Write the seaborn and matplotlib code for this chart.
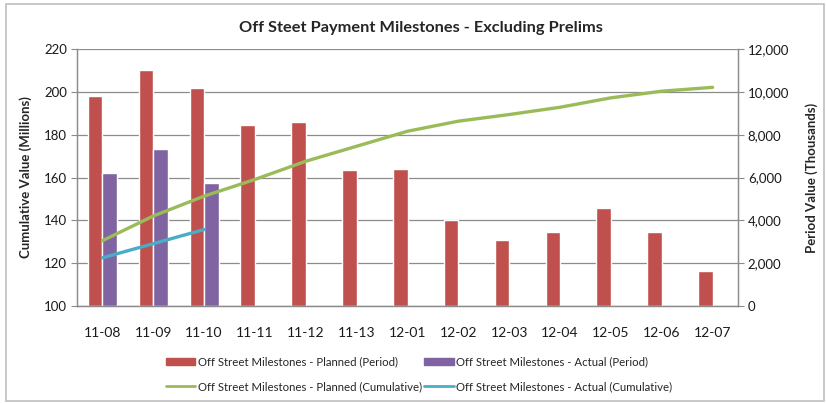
import matplotlib
matplotlib.use("Agg")
import matplotlib.pyplot as plt
from matplotlib.patches import Rectangle
from matplotlib.ticker import FuncFormatter, FixedLocator
import seaborn as sns
import pandas as pd
import numpy as np

# data
months = ["11-08", "11-09", "11-10", "11-11", "11-12", "11-13", "12-01",
          "12-02", "12-03", "12-04", "12-05", "12-06", "12-07"]
planned_period = [9800, 11040, 10180, 8460, 8580, 6340, 6400,
                  4010, 3090, 3450, 4590, 3470, 1630]
actual_period = [6190, 7340, 5720, np.nan, np.nan, np.nan, np.nan,
                 np.nan, np.nan, np.nan, np.nan, np.nan, np.nan]
planned_cum = [130.5, 142.0, 151.3, 159.1, 167.6, 174.6, 181.6,
               186.3, 189.4, 192.8, 197.2, 200.3, 202.1]
actual_cum = [122.5, 129.1, 135.7]

lbl_pp = "Off Street Milestones - Planned (Period)"
lbl_ap = "Off Street Milestones - Actual (Period)"
lbl_pc = "Off Street Milestones - Planned (Cumulative)"
lbl_ac = "Off Street Milestones - Actual (Cumulative)"

sns.set_style("white")
plt.rcParams["font.family"] = ["Lato", "DejaVu Sans"]

bars = pd.DataFrame({
    "month": months * 2,
    "value": planned_period + actual_period,
    "series": [lbl_pp] * len(months) + [lbl_ap] * len(months),
})

fig = plt.figure(figsize=(8.26, 4.03), dpi=100)
ax = fig.add_axes([0.0932, 0.2407, 0.8003, 0.6377])

# period bars (right scale)
sns.barplot(data=bars, x="month", y="value", hue="series",
            palette=["#C0504D", "#8064A2"], width=0.57, ax=ax,
            saturation=1, legend=False)
ax.set_ylim(0, 12000)
ax.set_xlim(-0.5, len(months) - 0.5)
ax.set_xlabel("")

# cumulative lines (left scale), drawn on top of bars
ax2 = ax.twinx()
sns.lineplot(x=range(len(months)), y=planned_cum, color="#9BBB59",
             linewidth=2.4, ax=ax2)
sns.lineplot(x=range(len(actual_cum)), y=actual_cum, color="#4BACC6",
             linewidth=2.4, ax=ax2)
ax2.set_ylim(100, 220)
ax2.set_xlim(-0.5, len(months) - 0.5)

# swap sides: bars axis on right, lines axis on left
ax.yaxis.tick_right()
ax.yaxis.set_label_position("right")
ax2.yaxis.tick_left()
ax2.yaxis.set_label_position("left")

ax.set_yticks(range(0, 12001, 2000))
ax.yaxis.set_major_formatter(FuncFormatter(lambda v, p: f"{int(v):,}"))
ax.set_ylabel("Period Value (Thousands)", fontsize=9.5, fontweight="bold",
              labelpad=12)
ax2.set_yticks(range(100, 221, 20))
ax2.set_ylabel("Cumulative Value (Millions)", fontsize=9.5,
               fontweight="bold", labelpad=9)

# gridlines behind the bars
for v in range(100, 221, 20):
    ax.axhline((v - 100) * 100, color="#8C8C8C", linewidth=0.9, zorder=0)
ax.set_axisbelow(True)

for a in (ax, ax2):
    a.spines["top"].set_visible(False)
    for side in ("left", "right", "bottom"):
        a.spines[side].set_color("#8C8C8C")
        a.spines[side].set_linewidth(0.9)
    a.tick_params(axis="y", length=4, width=0.8, color="#8C8C8C",
                  labelsize=9.5, labelcolor="#1a1a1a", pad=3)

ax.tick_params(axis="x", length=0, labelsize=10, labelcolor="#1a1a1a",
               pad=15)
ax.xaxis.set_minor_locator(FixedLocator(np.arange(-0.5, len(months), 1.0)))
ax.tick_params(axis="x", which="minor", length=4, width=0.8, color="#8C8C8C",
               direction="out")

fig.text(0.51, 0.93, "Off Steet Payment Milestones - Excluding Prelims",
         ha="center", va="center", fontsize=11.8, fontweight="bold")

# legend (column-major order so rows are period / cumulative)
h = [Rectangle((0, 0), 1, 1, color="#C0504D"),
     plt.Line2D([], [], color="#9BBB59", linewidth=2),
     Rectangle((0, 0), 1, 1, color="#8064A2"),
     plt.Line2D([], [], color="#4BACC6", linewidth=2)]
fig.legend(h, [lbl_pp, lbl_pc, lbl_ap, lbl_ac], ncol=2, frameon=False,
           loc="center", bbox_to_anchor=(0.507, 0.071), fontsize=8.2,
           handlelength=2.6, handleheight=0.55, columnspacing=0.2,
           handletextpad=0.2, labelspacing=1.2)

# outer chart frame
fig.patches.append(Rectangle((0.007, 0.005), 0.991, 0.985,
                             transform=fig.transFigure, fill=False,
                             edgecolor="#BFBFBF", linewidth=1.2))

fig.savefig("out.png", dpi=100)
